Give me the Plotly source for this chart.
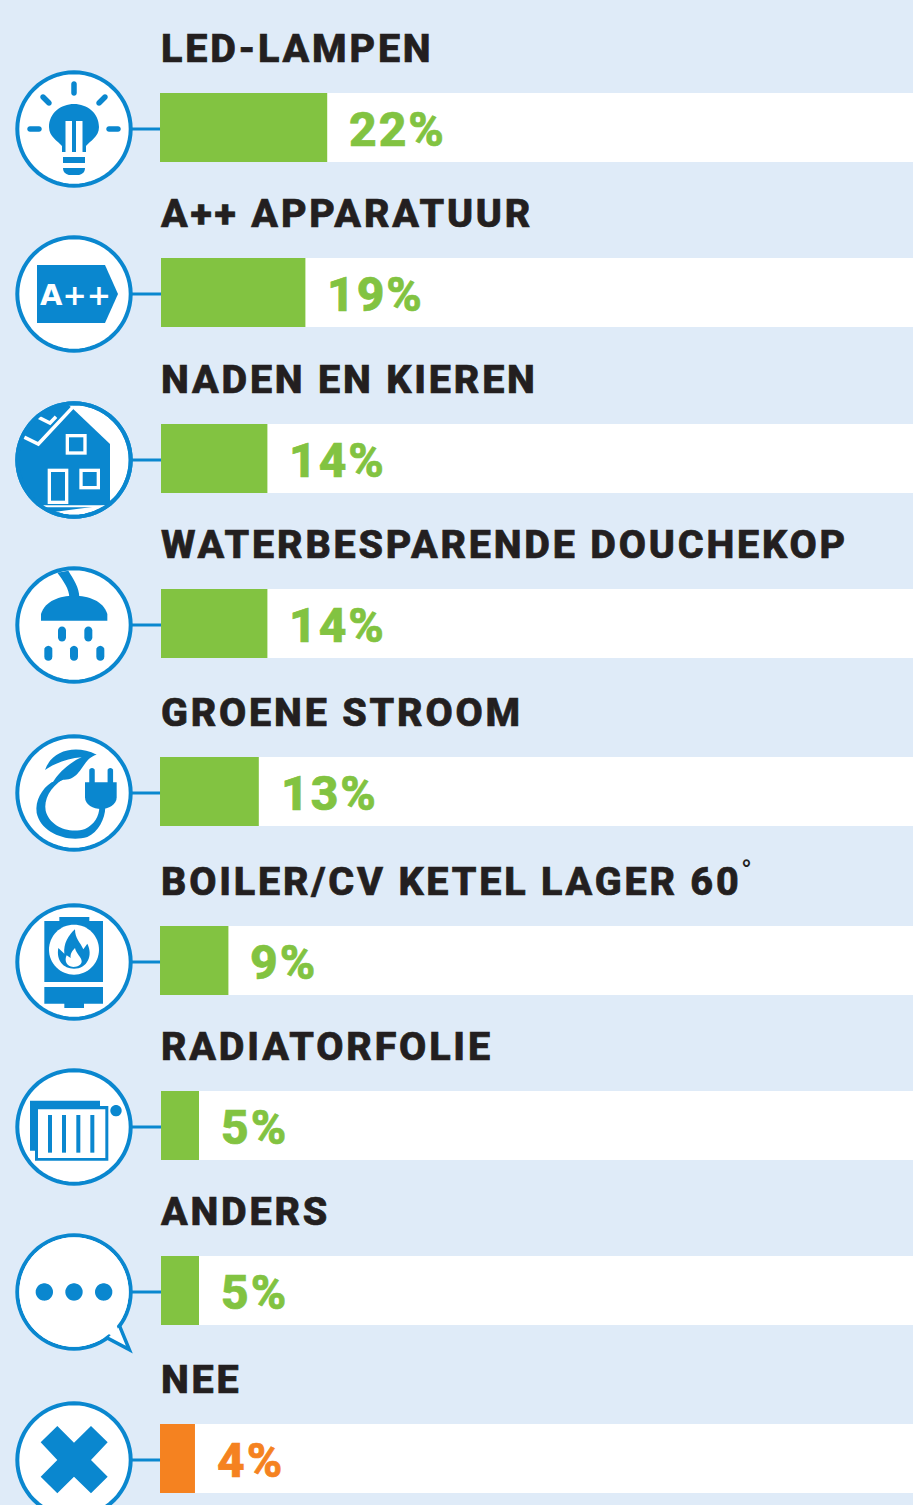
import math
import re
import plotly.graph_objects as go

categories = ["LED-LAMPEN", "A++ APPARATUUR", "NADEN EN KIEREN", "WATERBESPARENDE DOUCHEKOP",
              "GROENE STROOM", "BOILER/CV KETEL LAGER 60°", "RADIATORFOLIE", "ANDERS", "NEE"]
values = [22, 19, 14, 14, 13, 9, 5, 5, 4.6]
value_labels = ["22%", "19%", "14%", "14%", "13%", "9%", "5%", "5%", "4%"]
row_positions = [127.5, 292.5, 458.5, 623.5, 791.5, 960.5, 1125.5, 1290.5, 1458.5]
bar_bases = [-0.13, 0, 0, 0, -0.13, -0.13, 0, 0, -0.13]
bar_colors = ["#82c341"] * 8 + ["#f58220"]

W, H = 913, 1505
BG, BLUE, DARK = "#dfebf8", "#0a87cf", "#231f20"
PX_PER_UNIT = 7.6
X0 = 161
BAR_H = 69
ICON_X = 74
ICON_DY = 1.5

fig = go.Figure()
fig.add_bar(y=row_positions, x=[(W - X0) / PX_PER_UNIT] * 9, orientation="h", width=BAR_H,
            marker=dict(color="white", line_width=0), hoverinfo="skip", showlegend=False)
fig.add_bar(y=row_positions, x=values, base=bar_bases, orientation="h", width=BAR_H,
            marker=dict(color=bar_colors, line_width=0), showlegend=False)

ann = []
for c, v, l, y, col, b in zip(categories, values, value_labels, row_positions, bar_colors, bar_bases):
    ann.append(dict(x=0, y=y - 79.5, text=c.rstrip("°"), xref="x", yref="y", xanchor="left",
                    yanchor="middle", showarrow=False, xshift=-2,
                    font=dict(family="Roboto", size=39.5, color=DARK, weight=800)))
    ann.append(dict(x=v + b, y=y + 1.5, text=l, xref="x", yref="y", xanchor="left", yanchor="middle",
                    showarrow=False, xshift=20, font=dict(family="Roboto", size=48, color=col, weight=800)))
# the raised degree sign of the boiler label
ann.append(dict(x=(746 - X0) / PX_PER_UNIT, y=871, text="°", xref="x", yref="y", xanchor="center", yanchor="middle",
                showarrow=False, font=dict(family="Roboto", size=29, color=DARK)))

shapes = []


def fx(x):
    return x / W


def fy(y):
    return 1 - y / H


def conv(path, cx, cy, k=1.0):
    """Turn a local pixel path into a paper-referenced SVG path."""
    def rep(m):
        return f"{fx(cx + k * float(m.group(1))):.5f},{fy(cy + k * float(m.group(2))):.5f}"
    return re.sub(r"(-?\d+\.?\d*),(-?\d+\.?\d*)", rep, path)


def add_path(path, cx, cy, fill=BLUE, line=None, lw=0, k=1.0):
    s = dict(type="path", xref="paper", yref="paper", path=conv(path, cx, cy, k), layer="above")
    s["fillcolor"] = fill if fill else "rgba(0,0,0,0)"
    s["line"] = dict(color=line or "rgba(0,0,0,0)", width=lw)
    shapes.append(s)


def circle_path(x, y, r, n=64):
    pts = [(x + r * math.cos(2 * math.pi * i / n), y + r * math.sin(2 * math.pi * i / n)) for i in range(n)]
    return "M" + " L".join(f"{a:.2f},{b:.2f}" for a, b in pts) + " Z"


def pill(x0, y0, x1, y1, w):
    ang = math.atan2(y1 - y0, x1 - x0)
    pts = []
    r = w / 2
    for i in range(9):
        a = ang + math.pi / 2 + math.pi * i / 8
        pts.append((x0 + r * math.cos(a), y0 + r * math.sin(a)))
    for i in range(9):
        a = ang - math.pi / 2 + math.pi * i / 8
        pts.append((x1 + r * math.cos(a), y1 + r * math.sin(a)))
    return "M" + " L".join(f"{a:.2f},{b:.2f}" for a, b in pts) + " Z"


def rect(x0, y0, x1, y1):
    return f"M{x0},{y0} L{x1},{y0} L{x1},{y1} L{x0},{y1} Z"


def z(px, py, c=(222, 206)):
    """zoomed-crop (3x) coordinate to local pixels"""
    return f"{(px - c[0]) / 3:.2f},{(py - c[1]) / 3:.2f}"


def poly(points, c=(222, 206)):
    return "M" + " L".join(z(a, b, c) for a, b in points) + " Z"


def zrect(x0, y0, x1, y1, c=(222, 206)):
    return poly([(x0, y0), (x1, y0), (x1, y1), (x0, y1)], c)


def zc(px, py, r, c=(222, 206)):
    return circle_path((px - c[0]) / 3, (py - c[1]) / 3, r / 3)


# connectors and rings
for y in row_positions:
    cy = y + ICON_DY
    shapes.append(dict(type="line", xref="paper", yref="paper", x0=fx(130), x1=fx(X0), y0=fy(cy), y1=fy(cy),
                       line=dict(color=BLUE, width=3), layer="below"))
    add_path(circle_path(0, 0, 56.7), ICON_X, cy, fill="white", line=BLUE, lw=4)

# 1 bulb
cy = row_positions[0] + ICON_DY
add_path("M-12,23 L-12,17 C-16,12 -25,8 -25,-2 C-25,-16 -13,-25 0,-25 C13,-25 25,-16 25,-2 C25,8 16,12 12,17 L12,23 Z", ICON_X, cy)
add_path(rect(-8.5, -8, -2, 23), ICON_X, cy, fill="white")
add_path(rect(2, -8, 8.5, 23), ICON_X, cy, fill="white")
add_path(rect(-11, 28, 11, 34), ICON_X, cy)
add_path("M-11,39 L11,39 C11,44 7,46 4,46 L-4,46 C-7,46 -11,44 -11,39 Z", ICON_X, cy)
for a, b, c, d in [(0, -45, 0, -36), (-44, 0, -35, 0), (35, 0, 44, 0), (-31, -32, -25, -26), (31, -32, 25, -26)]:
    add_path(pill(a, b, c, d, 5.5), ICON_X, cy)

# 2 A++
cy = row_positions[1] + ICON_DY
add_path("M-37,-29 L31,-29 L44,0 L31,29 L-37,29 Z", ICON_X, cy)
ann.append(dict(x=fx(ICON_X + 1), y=fy(cy + 1.5), xref="paper", yref="paper", text="<b>A++</b>", showarrow=False,
                xanchor="center", yanchor="middle", font=dict(family="DejaVu Sans", size=29, color="white")))

# 3 house
cy = row_positions[2] + ICON_DY
arc = []
for i in range(25):
    a = math.radians(-97 - (i / 24) * 150)
    arc.append((56.7 * math.cos(a), 56.7 * math.sin(a)))
arc_s = " L".join(f"{a:.2f},{b:.2f}" for a, b in arc)
add_path("M" + arc_s + f" L{z(330, 340)} L{z(330, 158)} L{z(222, 55)} Z", ICON_X, cy)
add_path(f"M{z(68, 135)} L{z(115, 158)} L{z(220, 46)}", ICON_X, cy, fill=None, line="white", lw=3.5)
add_path(f"M{z(110, 75)} L{z(150, 95)} L{z(168, 76)}", ICON_X, cy, fill=None, line="white", lw=3.5)
add_path(zrect(130, 342, 318, 348), ICON_X, cy, fill="white")
for box in [(197, 128, 260, 190), (143, 232, 205, 338), (238, 232, 300, 294)]:
    add_path(zrect(*box), ICON_X, cy, fill="white")
    add_path(zrect(box[0] + 10, box[1] + 10, box[2] - 10, box[3] - 10), ICON_X, cy)
add_path(circle_path(0, 0, 56.7), ICON_X, cy, fill=None, line=BLUE, lw=4)

# 4 shower
cy = row_positions[3] + ICON_DY
c4 = (222, 703)
add_path(f"M{z(172, 546, c4)} L{z(205, 540, c4)} C{z(220, 565, c4)} {z(238, 590, c4)} {z(238, 620, c4)} L{z(208, 620, c4)} C{z(208, 595, c4)} {z(190, 570, c4)} {z(172, 546, c4)} Z", ICON_X, cy)
add_path(f"M{z(123, 690, c4)} L{z(123, 670, c4)} C{z(135, 630, c4)} {z(180, 615, c4)} {z(222, 615, c4)} C{z(265, 615, c4)} {z(310, 630, c4)} {z(322, 670, c4)} L{z(322, 690, c4)} Z", ICON_X, cy)
for px, py in [(186, 730), (265, 730), (145, 788), (222, 788), (301, 788)]:
    x, y = (px - 222) / 3, (py - 703) / 3
    add_path(pill(x, y - 3.5, x, y + 3.5, 8), ICON_X, cy)

# 5 plug & leaf
cy = row_positions[4] + ICON_DY
c5 = (222, 202)
add_path(f"M{z(155, 170, c5)} C{z(125, 190, c5)} {z(105, 225, c5)} {z(110, 262, c5)} C{z(122, 320, c5)} {z(200, 352, c5)} {z(262, 334, c5)} C{z(295, 320, c5)} {z(315, 280, c5)} {z(316, 245, c5)} "
         f"L{z(298, 245, c5)} C{z(298, 272, c5)} {z(282, 298, c5)} {z(255, 310, c5)} C{z(205, 326, c5)} {z(148, 300, c5)} {z(137, 255, c5)} C{z(131, 222, c5)} {z(150, 185, c5)} {z(190, 160, c5)} Z",
         ICON_X, cy)
add_path(f"M{z(135, 133, c5)} C{z(155, 75, c5)} {z(225, 55, c5)} {z(290, 87, c5)} C{z(245, 98, c5)} {z(245, 165, c5)} {z(190, 162, c5)} L{z(155, 176, c5)} C{z(178, 135, c5)} {z(215, 108, c5)} {z(245, 95, c5)} C{z(205, 98, c5)} {z(165, 112, c5)} {z(135, 133, c5)} Z", ICON_X, cy)
add_path(f"M{z(255, 170, c5)} L{z(350, 170, c5)} L{z(350, 215, c5)} C{z(350, 238, c5)} {z(325, 250, c5)} {z(303, 250, c5)} C{z(280, 250, c5)} {z(255, 238, c5)} {z(255, 215, c5)} Z", ICON_X, cy)
add_path(pill((276 - 222) / 3, (135 - 202) / 3, (276 - 222) / 3, (170 - 202) / 3, 5.5), ICON_X, cy)
add_path(pill((331 - 222) / 3, (135 - 202) / 3, (331 - 222) / 3, (170 - 202) / 3, 5.5), ICON_X, cy)

# 6 boiler
cy = row_positions[5] + ICON_DY
c6 = (222, 710)
add_path(zrect(133, 587, 309, 770, c6), ICON_X, cy)
add_path(zrect(178, 575, 268, 590, c6), ICON_X, cy)
add_path(zrect(133, 785, 309, 835, c6), ICON_X, cy)
add_path(zrect(193, 832, 252, 848, c6), ICON_X, cy)
add_path(zc(222, 673, 75, c6), ICON_X, cy, fill="white")
add_path(f"M{z(222, 730, c6)} C{z(190, 730, c6)} {z(168, 705, c6)} {z(175, 668, c6)} L{z(193, 685, c6)} C{z(190, 655, c6)} {z(205, 630, c6)} {z(225, 612, c6)} C{z(225, 640, c6)} {z(240, 650, c6)} {z(250, 672, c6)} L{z(262, 655, c6)} C{z(280, 690, c6)} {z(262, 730, c6)} {z(222, 730, c6)} Z", ICON_X, cy)
add_path(f"M{z(220, 725, c6)} C{z(200, 725, c6)} {z(192, 705, c6)} {z(200, 690, c6)} L{z(212, 698, c6)} C{z(210, 685, c6)} {z(218, 675, c6)} {z(225, 668, c6)} C{z(228, 685, c6)} {z(245, 695, c6)} {z(245, 708, c6)} C{z(245, 718, c6)} {z(235, 725, c6)} {z(220, 725, c6)} Z", ICON_X, cy, fill="white")

# 7 radiator
cy = row_positions[6] + ICON_DY
c7 = (222, 201)
add_path(zrect(90, 122, 300, 272, c7), ICON_X, cy)
add_path(zrect(105, 138, 325, 302, c7), ICON_X, cy)
add_path(zrect(114, 148, 316, 294, c7), ICON_X, cy, fill="white")
for px in [150, 192, 235, 277]:
    add_path(zrect(px - 6, 165, px + 6, 278, c7), ICON_X, cy)
add_path(zc(348, 152, 17, c7), ICON_X, cy)

# 8 speech
cy = row_positions[7] + ICON_DY
c8 = (222, 697)
add_path(f"M{z(357, 795, c8)} L{z(388, 870, c8)} L{z(318, 833, c8)} Z", ICON_X, cy, fill="white", line=BLUE, lw=3.5)
add_path(circle_path(0, 0, 54.7), ICON_X, cy, fill="white")
add_path(f"M{z(345, 785, c8)} L{z(368, 845, c8)} L{z(320, 820, c8)} Z", ICON_X, cy, fill="white")
for px in [133, 222, 311]:
    add_path(zc(px, 697, 26, c8), ICON_X, cy)

# 9 cross
cy = row_positions[8] + ICON_DY
c9 = (222, 240)
add_path(poly([(122, 187), (172, 138), (222, 188), (273, 138), (323, 187), (273, 240), (323, 290), (273, 340),
               (222, 290), (172, 340), (122, 290), (172, 240)], c9), ICON_X, cy)

fig.update_layout(
    width=W, height=H, margin=dict(l=0, r=0, t=0, b=0), paper_bgcolor=BG, plot_bgcolor=BG,
    barmode="overlay", showlegend=False, annotations=ann, shapes=shapes,
    xaxis=dict(range=[-X0 / PX_PER_UNIT, (W - X0) / PX_PER_UNIT], visible=False, fixedrange=True),
    yaxis=dict(range=[H, 0], visible=False, fixedrange=True),
)
js = """
document.body.style.margin='0';document.body.style.overflow='hidden';
document.querySelectorAll('.annotation-text').forEach(function(t){
  var s=t.textContent;
  if(s==='A++'||s==='\\u00b0')return;
  var w0=t.getComputedTextLength();
  t.style.letterSpacing=(/%$/.test(s)?'2px':'2.8px');
  t.style.stroke=t.style.fill;
  t.style.strokeWidth='0.7px';
  var w1=t.getComputedTextLength();
  t.setAttribute('x',parseFloat(t.getAttribute('x'))+(w1-w0)/2);
});
"""
fig.write_html("out.html", config={"displayModeBar": False}, post_script=js)
